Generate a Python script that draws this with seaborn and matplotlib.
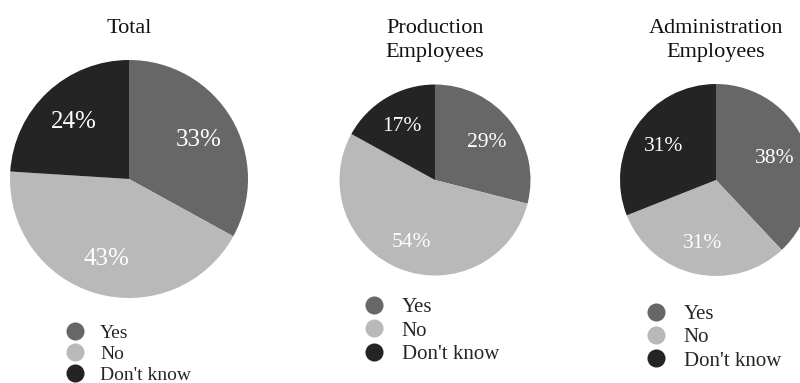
import matplotlib
matplotlib.use("Agg")
import matplotlib.pyplot as plt
from matplotlib.lines import Line2D
import seaborn as sns

# data
answers = ["Yes", "No", "Don't know"]
total_share = [33, 43, 24]
production_share = [29, 54, 17]
administration_share = [38, 31, 31]
titles = ["Total", "Production\nEmployees", "Administration\nEmployees"]
grays = ["#676767", "#b9b9b9", "#242424"]

sns.set_theme(style="white")
plt.rcParams['font.family'] = ['Liberation Serif', 'DejaVu Serif']

W, H = 800, 383
fig = plt.figure(figsize=(8, 3.83), dpi=100)
palette = sns.color_palette(grays)

# pixel layout per pie: centre x, centre y, radius, label size, legend size,
# legend left x, legend middle y, label distance
panels = [
    (total_share, titles[0], 129, 179, 119, 18, 14, 65, 354, 0.68),
    (production_share, titles[1], 435, 180, 95.5, 15.5, 15, 364, 331, 0.68),
    (administration_share, titles[2], 716, 180, 96, 15.5, 15, 646, 337.5, 0.66),
]

for share, title, cx, cy, r, lab_fs, leg_fs, lx, ly, pd_ in panels:
    ax = fig.add_axes([(cx - r) / W, (H - cy - r) / H, 2 * r / W, 2 * r / H])
    wedges, _, autotexts = ax.pie(
        share, colors=palette, startangle=90, counterclock=False,
        autopct=lambda p: f"{p:.0f}%", pctdistance=pd_,
        wedgeprops=dict(linewidth=0), radius=1,
    )
    for t in autotexts:
        t.set_color("white")
        t.set_fontsize(lab_fs)
        x, y = t.get_position()
        t.set_position((x, y - 0.02))
    ax.set_xlim(-1, 1)
    ax.set_ylim(-1, 1)
    ax.set_aspect("equal")
    ax.axis("off")

    # title above the pie, one baseline per line
    for i, line in enumerate(title.split("\n")):
        fig.text(cx / W, 1 - (33 + 24 * i) / H, line, ha="center", va="baseline",
                 fontsize=16, color="#111111")

    handles = [Line2D([], [], marker="o", linestyle="", markersize=13,
                      markerfacecolor=c, markeredgewidth=0) for c in palette]
    fig.legend(handles, answers, loc="center left",
               bbox_to_anchor=(lx / W, 1 - ly / H), frameon=False,
               fontsize=leg_fs, handlelength=1.0, handletextpad=0.8,
               labelspacing=0.18, borderpad=0, borderaxespad=0)

fig.savefig("out.png", dpi=100, facecolor="white")
